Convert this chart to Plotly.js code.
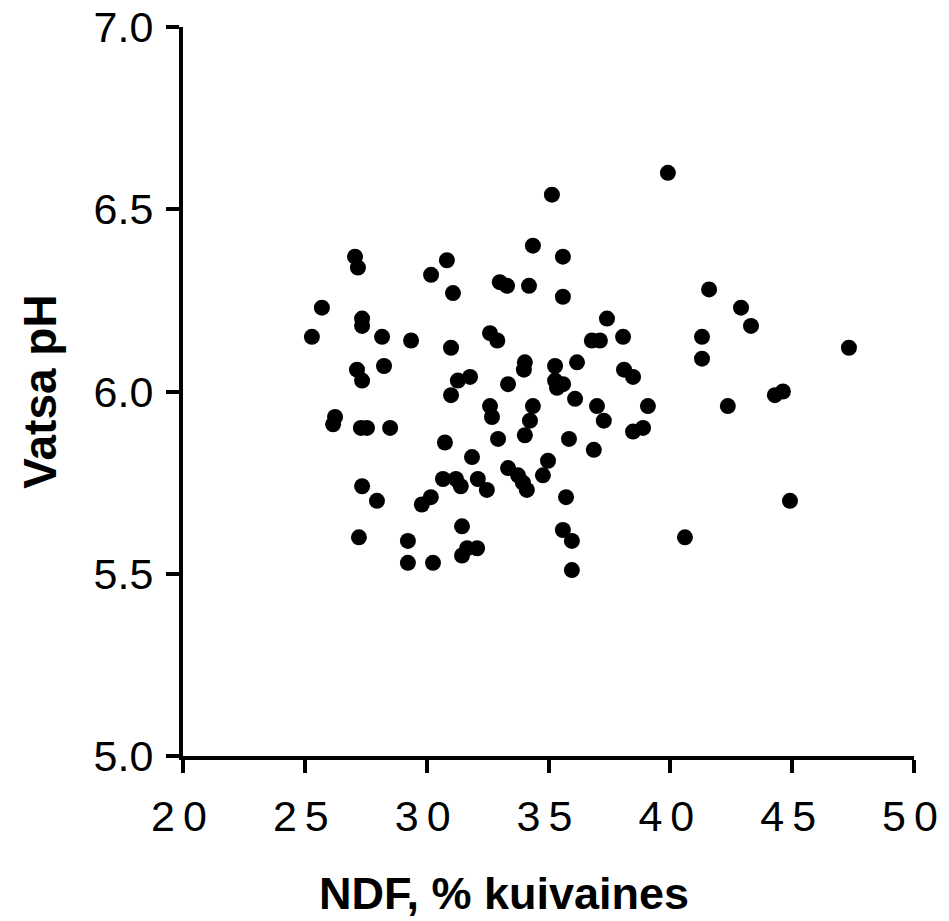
<!DOCTYPE html>
<html>
<head>
<meta charset="utf-8">
<script src="https://cdn.plot.ly/plotly-3.0.1.min.js"></script>
<style>
html,body{margin:0;padding:0;background:#fff;}
#chart{width:949px;height:921px;}
.xtick text{letter-spacing:8px;}
</style>
</head>
<body>
<div id="chart"></div>
<script>
const ndf = [25.29,25.7,27.06,27.18,27.35,27.35,27.14,27.35,26.24,26.16,
  27.3,27.55,28.5,27.35,27.96,27.22,28.17,28.25,29.36,29.23,
  29.23,30.26,29.8,30.17,30.18,30.83,31.08,31.0,31.0,31.28,
  31.78,30.75,30.67,31.2,31.4,31.86,32.1,32.47,31.45,31.66,
  32.07,31.45,32.6,32.9,33.0,33.3,32.6,32.68,32.93,33.34,
  33.34,33.75,34.03,33.99,34.36,34.2,34.36,34.24,34.03,33.95,
  34.11,34.77,34.98,35.14,35.59,35.59,35.27,35.27,35.35,35.6,
  36.09,35.84,35.72,35.59,35.96,35.96,36.17,36.78,37.11,37.4,
  36.99,37.27,36.86,38.06,38.1,38.47,38.47,38.88,39.08,39.9,
  40.6,41.3,41.3,41.59,42.36,42.9,43.31,44.29,44.62,44.91,47.33];
const ph = [6.15,6.23,6.37,6.34,6.20,6.18,6.06,6.03,5.93,5.91,
  5.90,5.90,5.90,5.74,5.70,5.60,6.15,6.07,6.14,5.59,
  5.53,5.53,5.69,5.71,6.32,6.36,6.27,6.12,5.99,6.03,
  6.04,5.86,5.76,5.76,5.74,5.82,5.76,5.73,5.63,5.57,
  5.57,5.55,6.16,6.14,6.30,6.29,5.96,5.93,5.87,6.02,
  5.79,5.77,6.08,6.06,6.40,6.29,5.96,5.92,5.88,5.75,
  5.73,5.77,5.81,6.54,6.37,6.26,6.07,6.03,6.01,6.02,
  5.98,5.87,5.71,5.62,5.59,5.51,6.08,6.14,6.14,6.20,
  5.96,5.92,5.84,6.15,6.06,6.04,5.89,5.90,5.96,6.60,
  5.60,6.15,6.09,6.28,5.96,6.23,6.18,5.99,6.00,5.70,6.12];
const xTicks = [20,25,30,35,40,45,50];
const yTicks = [5.0,5.5,6.0,6.5,7.0];
const xTitle = 'NDF, % kuivaines';
const yTitle = 'Vatsa pH';

const font = 'Liberation Sans, Arial, sans-serif';
Plotly.newPlot('chart', [{
  x: ndf, y: ph, type: 'scatter', mode: 'markers',
  marker: {color: '#000', size: 16, line: {width: 0}},
  hoverinfo: 'x+y'
}], {
  width: 949, height: 921,
  margin: {l: 183, r: 35, t: 27, b: 165},
  paper_bgcolor: '#fff', plot_bgcolor: '#fff',
  showlegend: false,
  font: {family: font, color: '#000'},
  xaxis: {
    range: [20, 50], tickvals: xTicks, ticktext: xTicks.map(String),
    showgrid: false, zeroline: false,
    showline: true, linecolor: '#000', linewidth: 4,
    ticks: 'outside', ticklen: 13, tickwidth: 4, tickcolor: '#000',
    tickfont: {size: 43, family: font, color: '#000'},
    ticklabelstandoff: 6
  },
  yaxis: {
    range: [5, 7], tickvals: yTicks, ticktext: yTicks.map(v => v.toFixed(1)),
    showgrid: false, zeroline: false,
    showline: true, linecolor: '#000', linewidth: 4,
    ticks: 'outside', ticklen: 13, tickwidth: 4, tickcolor: '#000',
    tickfont: {size: 43, family: font, color: '#000'},
    ticklabelstandoff: 4,
    title: {text: yTitle, font: {size: 46, family: font, weight: 'bold', color: '#000'}, standoff: 24}
  },
  annotations: [{
    text: xTitle, xref: 'paper', yref: 'paper', x: 0.439, y: -0.188,
    xanchor: 'center', yanchor: 'middle', showarrow: false,
    font: {size: 45, family: font, weight: 'bold', color: '#000'}
  }]
}, {displayModeBar: false, staticPlot: true});
</script>
</body>
</html>
